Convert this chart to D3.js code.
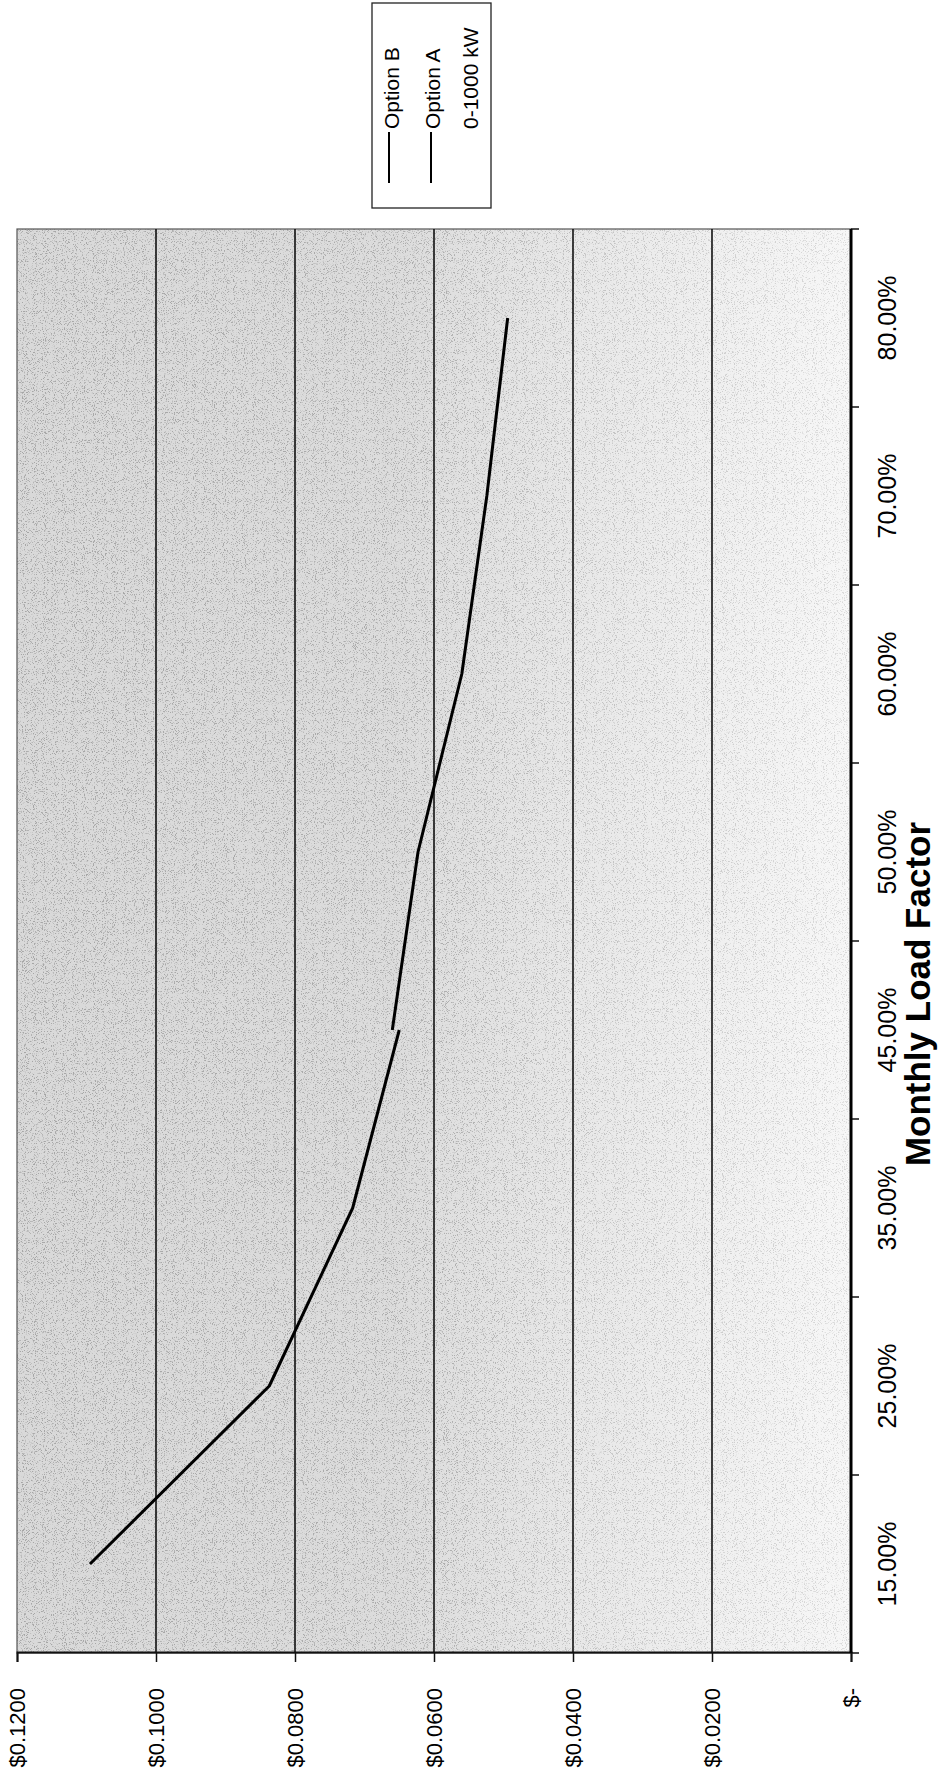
<!DOCTYPE html>
<html>
<head>
<meta charset="utf-8">
<script src="https://cdn.jsdelivr.net/npm/d3@7"></script>
<style>
  html, body { margin: 0; padding: 0; background: #ffffff; }
  svg { display: block; }
  text { font-family: Arial, "Liberation Sans", sans-serif; fill: #000; }
</style>
</head>
<body>
<script>
// Monthly load factor categories (x axis of the chart)
const categories = ["15.00%", "25.00%", "35.00%", "45.00%", "50.00%", "60.00%", "70.00%", "80.00%"];

// Average cost per kWh, 0-1000 kW customers
const optionA = [0.1095, 0.0837, 0.0717, 0.0650, null, null, null, null];
const optionB = [null, null, null, 0.0660, 0.0623, 0.0560, 0.0524, 0.0494];

// Value axis ticks and their printed labels
const valueTicks = [0, 0.02, 0.04, 0.06, 0.08, 0.10, 0.12];
const valueTickLabels = ["$-", "$0.0200", "$0.0400", "$0.0600", "$0.0800", "$0.1000", "$0.1200"];

// Legend entries (top to bottom in the chart's own orientation)
const legendLabels = ["Option B", "Option A", "0-1000 kW"];
const legendHasLine = [true, true, false];

const axisTitle = "Monthly Load Factor";

// Page size; the chart itself is laid out landscape and turned a quarter turn
const pageW = 946, pageH = 1786;

const plot = { left: 133, right: 1557, top: 17, bottom: 851 };

const svg = d3.select("body").append("svg")
  .attr("width", pageW)
  .attr("height", pageH);

const defs = svg.append("defs");

// Plot fill: grey gradient, darkest at the top of the value range
const grad = defs.append("linearGradient")
  .attr("id", "plotFill")
  .attr("x1", 0).attr("y1", 0).attr("x2", 0).attr("y2", 1);
[[0, "#d9d9d9"], [0.45, "#dcdcdc"], [0.65, "#e7e7e7"], [1, "#f7f7f7"]]
  .forEach(([o, c]) => grad.append("stop").attr("offset", o).attr("stop-color", c));

// Printed-halftone grain over the plot fill
const grain = defs.append("filter")
  .attr("id", "grain")
  .attr("x", 0).attr("y", 0).attr("width", 1).attr("height", 1);
grain.append("feTurbulence")
  .attr("type", "fractalNoise")
  .attr("baseFrequency", 0.9)
  .attr("numOctaves", 2)
  .attr("seed", 7)
  .attr("result", "noise");
grain.append("feColorMatrix")
  .attr("in", "noise")
  .attr("type", "matrix")
  .attr("values", "0 0 0 0 0.35  0 0 0 0 0.35  0 0 0 0 0.35  7 0 0 0 -3.9");

const grainMaskGrad = defs.append("linearGradient")
  .attr("id", "grainFade")
  .attr("x1", 0).attr("y1", 0).attr("x2", 0).attr("y2", 1);
[[0, "#e8e8e8"], [0.5, "#cccccc"], [0.7, "#888888"], [1, "#555555"]]
  .forEach(([o, c]) => grainMaskGrad.append("stop").attr("offset", o).attr("stop-color", c));
const grainMask = defs.append("mask").attr("id", "grainMask")
  .attr("maskUnits", "userSpaceOnUse")
  .attr("x", plot.left).attr("y", plot.top)
  .attr("width", plot.right - plot.left).attr("height", plot.bottom - plot.top);
grainMask.append("rect")
  .attr("x", plot.left).attr("y", plot.top)
  .attr("width", plot.right - plot.left).attr("height", plot.bottom - plot.top)
  .attr("fill", "url(#grainFade)");

// Landscape chart group, rotated so that it reads bottom-to-top on the page
const g = svg.append("g")
  .attr("transform", `translate(0,${pageH}) rotate(-90)`);

const x = d3.scaleBand().domain(categories).range([plot.left, plot.right]).padding(0);
const y = d3.scaleLinear().domain([0, 0.12]).range([plot.bottom, plot.top]);

// Plot area background
g.append("rect")
  .attr("x", plot.left).attr("y", plot.top)
  .attr("width", plot.right - plot.left).attr("height", plot.bottom - plot.top)
  .attr("fill", "url(#plotFill)");
g.append("g").attr("mask", "url(#grainMask)")
  .append("rect")
  .attr("x", plot.left).attr("y", plot.top)
  .attr("width", plot.right - plot.left).attr("height", plot.bottom - plot.top)
  .attr("filter", "url(#grain)");
g.append("rect")
  .attr("x", plot.left).attr("y", plot.top)
  .attr("width", plot.right - plot.left).attr("height", plot.bottom - plot.top)
  .attr("fill", "none")
  .attr("stroke", "#555").attr("stroke-width", 1.2);

// Horizontal gridlines
g.append("g").selectAll("line")
  .data(valueTicks.filter(v => v > 0 && v < 0.12))
  .join("line")
  .attr("x1", plot.left).attr("x2", plot.right)
  .attr("y1", d => y(d)).attr("y2", d => y(d))
  .attr("stroke", "#111").attr("stroke-width", 1.6);

// Value axis (left)
const yAxis = d3.axisLeft(y)
  .tickValues(valueTicks)
  .tickSize(9)
  .tickPadding(26)
  .tickFormat((d, i) => valueTickLabels[i]);
const yAxisG = g.append("g")
  .attr("transform", `translate(${plot.left},0)`)
  .call(yAxis);
yAxisG.select(".domain").attr("stroke", "#111").attr("stroke-width", 2);
yAxisG.selectAll(".tick line").attr("stroke", "#111").attr("stroke-width", 1.5);
yAxisG.selectAll(".tick text")
  .style("font-family", "Arial, 'Liberation Sans', sans-serif")
  .style("font-size", "22px");

// Category axis (bottom): labels centred in each band, ticks on band edges
const xAxis = d3.axisBottom(x).tickSize(0).tickPadding(27);
const xAxisG = g.append("g")
  .attr("transform", `translate(0,${plot.bottom})`)
  .call(xAxis);
xAxisG.select(".domain").remove();
xAxisG.selectAll(".tick text")
  .style("font-family", "Arial, 'Liberation Sans', sans-serif")
  .style("font-size", "25px");

const edges = categories.map(c => x(c)).concat([x.range()[1]]);
g.append("g").selectAll("line")
  .data(edges)
  .join("line")
  .attr("x1", d => d).attr("x2", d => d)
  .attr("y1", plot.bottom).attr("y2", plot.bottom + 8)
  .attr("stroke", "#111").attr("stroke-width", 1.5);

g.append("line")
  .attr("x1", plot.left).attr("x2", plot.right)
  .attr("y1", plot.bottom).attr("y2", plot.bottom)
  .attr("stroke", "#000").attr("stroke-width", 3);

// Axis title
g.append("text")
  .attr("x", 792)
  .attr("y", 930)
  .attr("text-anchor", "middle")
  .style("font-size", "35px")
  .style("font-weight", "bold")
  .text(axisTitle);

// Series lines
const line = d3.line()
  .defined(d => d.v != null)
  .x(d => x(d.c) + x.bandwidth() / 2)
  .y(d => y(d.v));

[optionA, optionB].forEach(series => {
  g.append("path")
    .datum(categories.map((c, i) => ({ c, v: series[i] })))
    .attr("d", line)
    .attr("fill", "none")
    .attr("stroke", "#000")
    .attr("stroke-width", 3)
    .attr("stroke-linejoin", "round");
});

// Legend
const legend = { x: 1578, y: 372, w: 205, h: 119 };
g.append("rect")
  .attr("x", legend.x).attr("y", legend.y)
  .attr("width", legend.w).attr("height", legend.h)
  .attr("fill", "#fff").attr("stroke", "#222").attr("stroke-width", 1.3);

const rowBase = [399, 440, 478];
const rowLine = [389, 431];
legendLabels.forEach((lab, i) => {
  if (legendHasLine[i]) {
    g.append("line")
      .attr("x1", 1603).attr("x2", 1654)
      .attr("y1", rowLine[i]).attr("y2", rowLine[i])
      .attr("stroke", "#000").attr("stroke-width", 2);
  }
  g.append("text")
    .attr("x", 1657)
    .attr("y", rowBase[i])
    .style("font-size", "21px")
    .text(lab);
});
</script>
</body>
</html>
